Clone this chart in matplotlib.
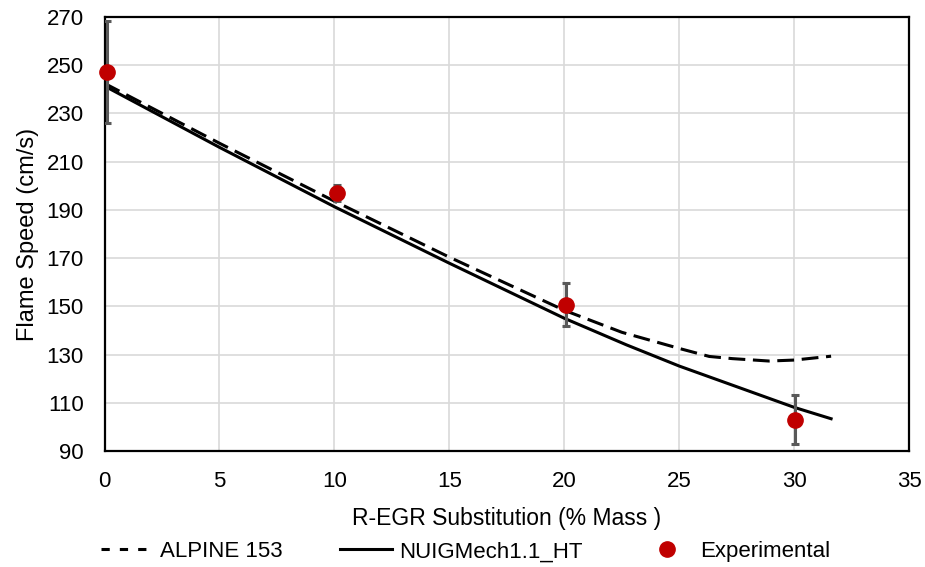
import matplotlib
matplotlib.use("Agg")
import matplotlib.pyplot as plt
from matplotlib.lines import Line2D

plt.rcParams['font.family'] = ['Liberation Sans', 'DejaVu Sans']

# Model curves
alpine_x = [0, 5, 10, 15, 20, 22.5, 25, 26.3, 27.3, 28.9, 30, 31.6]
alpine_y = [242.4, 217.6, 193.6, 170.4, 148.4, 139.3, 132.6, 129.3, 128.4, 127.4, 127.8, 129.4]

nuig_x = [0, 5, 10, 15, 20, 22.7, 25, 30, 31.6]
nuig_y = [241.3, 215.9, 191.3, 167.9, 145.1, 134.1, 125.3, 108.2, 103.5]

# Experimental data
exp_x = [0.1, 10.1, 20.05, 30.05]
exp_y = [247.0, 197.1, 150.6, 102.8]
exp_err_low = [21.0, 3.3, 8.7, 9.9]
exp_err_high = [21.3, 3.3, 9.3, 10.4]

x_ticks = [0, 5, 10, 15, 20, 25, 30, 35]
y_ticks = [90, 110, 130, 150, 170, 190, 210, 230, 250, 270]

DASH = (0, (5.5, 2.5))

fig = plt.figure(figsize=(9.25, 5.67), dpi=100)
ax = fig.add_axes([0.113, 0.204, 0.870, 0.7665])

ax.plot(alpine_x, alpine_y, color='black', lw=2.2, ls=DASH, label='ALPINE 153', zorder=3)
ax.plot(nuig_x, nuig_y, color='black', lw=2.2, ls='-', label='NUIGMech1.1_HT', zorder=3)
ax.errorbar(exp_x, exp_y, yerr=[exp_err_low, exp_err_high], fmt='none',
            ecolor='#595959', elinewidth=2.2, capsize=3.2, capthick=2.2, zorder=4)
ax.plot(exp_x, exp_y, 'o', color='#C00000', ms=11, label='Experimental', zorder=5, clip_on=False)

ax.set_xlim(0, 35)
ax.set_ylim(90, 270)
ax.set_xticks(x_ticks)
ax.set_yticks(y_ticks)
ax.grid(True, color='#d9d9d9', lw=1.2)
ax.set_axisbelow(True)
ax.tick_params(axis='x', length=0, labelsize=16, pad=14)
ax.tick_params(axis='y', length=0, labelsize=16, pad=15)
for s in ax.spines.values():
    s.set_linewidth(1.6)
    s.set_color('black')

ax.set_xlabel('R-EGR Substitution (% Mass )', fontsize=16.5, labelpad=11)
ax.set_ylabel('Flame Speed (cm/s)', fontsize=17, labelpad=5)

handles = [
    Line2D([], [], color='black', lw=2.2, ls=(0, (2.7, 3.3))),
    Line2D([], [], color='black', lw=2.2),
    Line2D([], [], color='#C00000', marker='o', ls='none', ms=11),
]
labels = ['ALPINE 153', 'NUIGMech1.1_HT', 'Experimental']
fig.legend(handles, labels, loc='center', bbox_to_anchor=(0.503, 0.027), ncol=3,
           frameon=False, fontsize=16, handlelength=2.34, columnspacing=2.6,
           handletextpad=0.32, borderpad=0, borderaxespad=0)

fig.savefig('out.png', dpi=100)
